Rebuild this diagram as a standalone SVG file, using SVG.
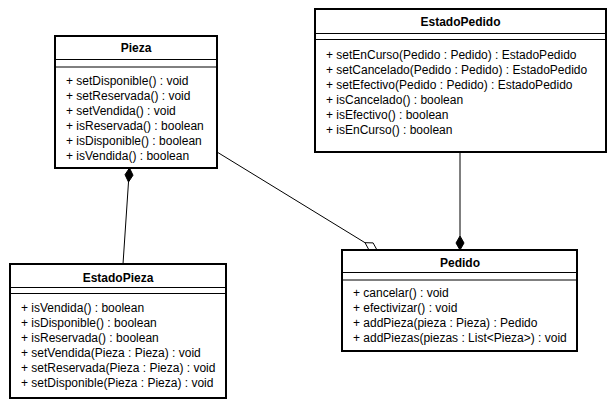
<svg xmlns="http://www.w3.org/2000/svg" width="614" height="407" viewBox="0 0 614 407">
<style>
.box{fill:#fff;stroke:#000;stroke-width:2}
.sep{stroke:#000;stroke-width:1}
.t{font-family:"Liberation Sans",Arial,sans-serif;font-size:12px;fill:#000}
.h{font-family:"Liberation Sans",Arial,sans-serif;font-size:12px;font-weight:bold;fill:#000;text-anchor:middle}
.ln{stroke:#000;stroke-width:1;fill:none}
.fd{fill:#000;stroke:#000;stroke-width:1}
.hd{fill:#fff;stroke:#000;stroke-width:1}
</style>
<rect width="614" height="407" fill="#fff"/>
<g id="connectors">
<line class="ln" x1="128.5" y1="182" x2="123" y2="264"/>
<polygon class="fd" points="129.5,168 133,175.2 128.5,182 125,174.7"/>
<line class="ln" x1="460" y1="152" x2="460" y2="236"/>
<polygon class="fd" points="460,236 464,243 460,250 456,243"/>
<line class="ln" x1="217" y1="152" x2="365" y2="242.7"/>
<polygon class="hd" points="365,242.7 373.1,242.9 377,250 368.9,249.8"/>
</g>
<g id="Pieza">
<rect class="box" x="55" y="36" width="162" height="132"/>
<line class="sep" x1="55" y1="59.5" x2="217" y2="59.5"/>
<line class="sep" x1="55" y1="67" x2="217" y2="67"/>
<text class="h" x="136" y="52">Pieza</text>
<text class="t" x="66" y="85">+ setDisponible() : void</text>
<text class="t" x="66" y="100">+ setReservada() : void</text>
<text class="t" x="66" y="115">+ setVendida() : void</text>
<text class="t" x="66" y="130">+ isReservada() : boolean</text>
<text class="t" x="66" y="145">+ isDisponible() : boolean</text>
<text class="t" x="66" y="160">+ isVendida() : boolean</text>
</g>
<g id="EstadoPedido">
<rect class="box" x="315" y="9" width="291" height="143"/>
<line class="sep" x1="315" y1="33.5" x2="606" y2="33.5"/>
<line class="sep" x1="315" y1="39.5" x2="606" y2="39.5"/>
<text class="h" x="460.5" y="26">EstadoPedido</text>
<text class="t" x="326" y="58.5">+ setEnCurso(Pedido : Pedido) : EstadoPedido</text>
<text class="t" x="326" y="73.5">+ setCancelado(Pedido : Pedido) : EstadoPedido</text>
<text class="t" x="326" y="88.5">+ setEfectivo(Pedido : Pedido) : EstadoPedido</text>
<text class="t" x="326" y="103.5">+ isCancelado() : boolean</text>
<text class="t" x="326" y="118.5">+ isEfectivo() : boolean</text>
<text class="t" x="326" y="133.5">+ isEnCurso() : boolean</text>
</g>
<g id="EstadoPieza">
<rect class="box" x="10" y="264" width="216" height="134"/>
<line class="sep" x1="10" y1="287.5" x2="226" y2="287.5"/>
<line class="sep" x1="10" y1="293.5" x2="226" y2="293.5"/>
<text class="h" x="118" y="282">EstadoPieza</text>
<text class="t" x="21" y="312">+ isVendida() : boolean</text>
<text class="t" x="21" y="327">+ isDisponible() : boolean</text>
<text class="t" x="21" y="342">+ isReservada() : boolean</text>
<text class="t" x="21" y="357">+ setVendida(Pieza : Pieza) : void</text>
<text class="t" x="21" y="372">+ setReservada(Pieza : Pieza) : void</text>
<text class="t" x="21" y="387">+ setDisponible(Pieza : Pieza) : void</text>
</g>
<g id="Pedido">
<rect class="box" x="342" y="250" width="235" height="101"/>
<line class="sep" x1="342" y1="272.5" x2="577" y2="272.5"/>
<line class="sep" x1="342" y1="280" x2="577" y2="280"/>
<text class="h" x="460" y="267">Pedido</text>
<text class="t" x="353" y="297">+ cancelar() : void</text>
<text class="t" x="353" y="312">+ efectivizar() : void</text>
<text class="t" x="353" y="327">+ addPieza(pieza : Pieza) : Pedido</text>
<text class="t" x="353" y="342">+ addPiezas(piezas : List&lt;Pieza&gt;) : void</text>
</g>
</svg>
